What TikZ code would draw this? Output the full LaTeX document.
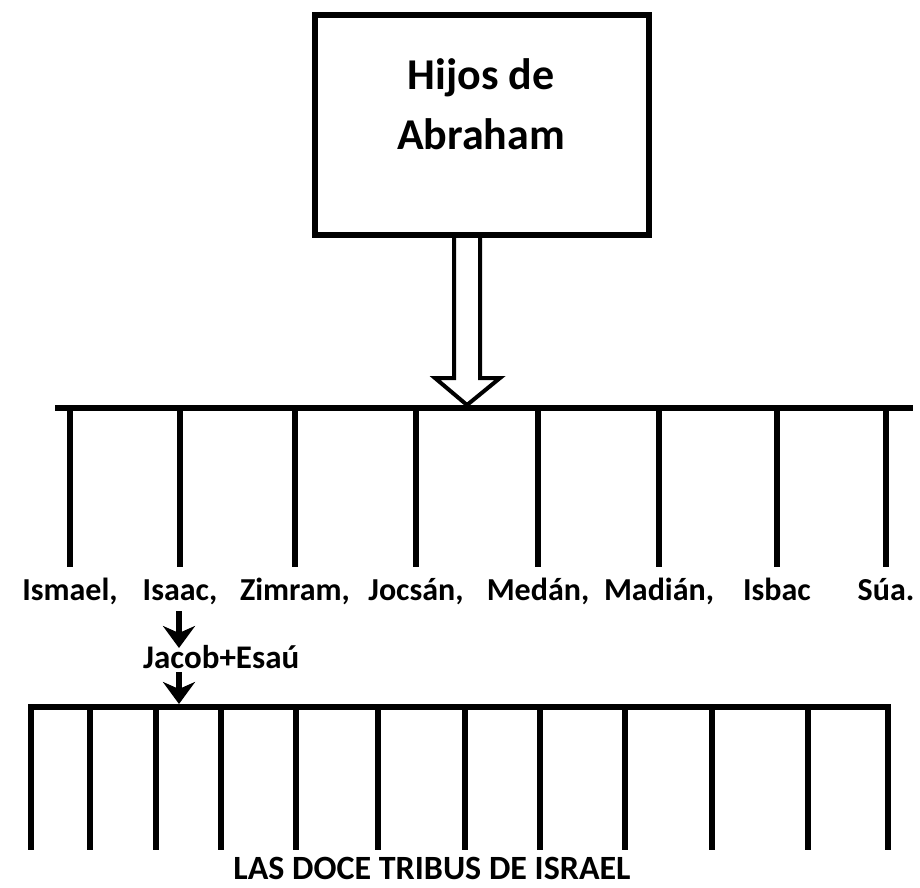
\documentclass[tikz,border=0pt]{standalone}
\usepackage{fontspec}
\setmainfont{Carlito}
\usetikzlibrary{arrows.meta}
\tikzset{
  thickline/.style={line width=6pt},
  vline/.style={line width=5.5pt},
  titlebox/.style={draw, line width=6.5pt, minimum width=334pt, minimum height=220pt, inner sep=0pt},
  titletext/.style={align=center, font=\bfseries\fontsize{44}{60}\selectfont, inner sep=0pt},
  namelbl/.style={anchor=base, font=\bfseries\fontsize{32}{36}\selectfont, inner sep=0pt},
  tribelbl/.style={anchor=base, font=\bfseries\fontsize{34}{40}\selectfont, inner sep=0pt},
  bigarrow/.style={line width=4pt, fill=white, line join=miter},
  smallarrow/.style={line width=6.5pt, -{Stealth[length=22pt,width=32pt,inset=7pt]}},
}
\begin{document}
\begin{tikzpicture}[x=1pt,y=-1pt]
\useasboundingbox (0,0) rectangle (920,887);
% title box
\node[titlebox] (box) at (482,125) {};
\node[titletext] (title) at (481,104) {Hijos de\\Abraham};
% hollow arrow
\draw[bigarrow] (454,238) -- (454,378) -- (435,378) -- (467,405) -- (500,378) -- (480,378) -- (480,238);
% top bar
\coordinate (tl) at (55,408);
\coordinate (tr) at (913,408);
\draw[thickline] (tl) -- (tr);
\foreach \x/\n/\nm in {70/n1/{Ismael,},180/n2/{Isaac,},295/n3/{Zimram,},416/n4/{Jocsán,},538/n5/{Medán,},659/n6/{Madián,},777/n7/{Isbac},886/n8/{Súa.}}{
  \coordinate (t\n) at (\x,408);
  \coordinate (b\n) at (\x,567);
  \draw[vline] (t\n) -- (b\n);
  \node[namelbl] (\n) at (\x,600) {\nm};
}
% Jacob+Esau
\node[anchor=base west, font=\bfseries\fontsize{33}{36}\selectfont, inner sep=0pt] (je) at (143,668) {Jacob+Esaú};
\coordinate (a1s) at (179,611);
\coordinate (a1e) at (179,648);
\coordinate (a2s) at (179,672);
\coordinate (a2e) at (179,704);
\draw[smallarrow] (a1s) -- (a1e);
\draw[smallarrow] (a2s) -- (a2e);
% bottom bar
\coordinate (bl) at (28,707);
\coordinate (br) at (891,707);
\draw[thickline] (bl) -- (br);
\foreach \x [count=\i] in {31,90,156,221,296,378,465,540,625,712,808,888}{
  \coordinate (u\i) at (\x,707);
  \coordinate (d\i) at (\x,850);
  \draw[vline] (u\i) -- (d\i);
}
\node[tribelbl] (tribes) at (432,879) {LAS DOCE TRIBUS DE ISRAEL};
\end{tikzpicture}
\end{document}
